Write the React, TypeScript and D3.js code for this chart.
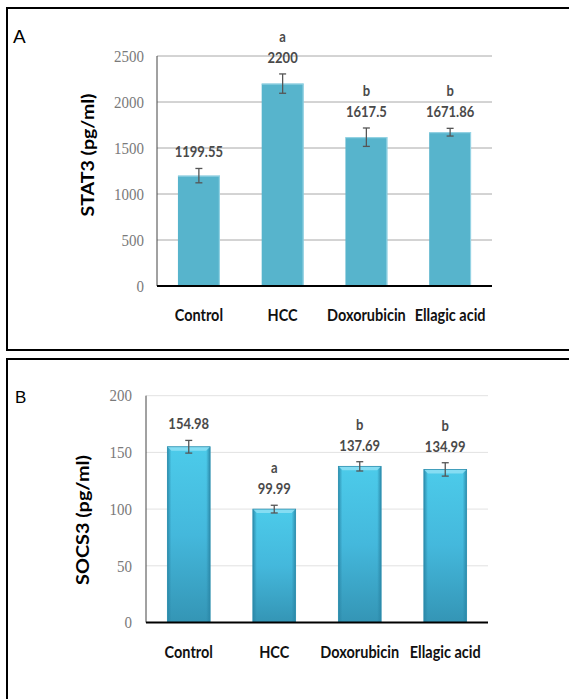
import React from "react";
import * as d3 from "d3";

const categories = ["Control", "HCC", "Doxorubicin", "Ellagic acid"];

const stat3Values = [1199.55, 2200, 1617.5, 1671.86];
const stat3Errors = [78, 105, 100, 42];
const stat3Letters = ["", "a", "b", "b"];
const stat3Ticks = [0, 500, 1000, 1500, 2000, 2500];

const socs3Values = [154.98, 99.99, 137.69, 134.99];
const socs3Errors = [5.6, 3.4, 4.1, 5.9];
const socs3Letters = ["", "a", "b", "b"];
const socs3Ticks = [0, 50, 100, 150, 200];

type PanelProps = {
  id: string;
  letter: string;
  letterX: number;
  letterY: number;
  letterSize: number;
  title: string;
  titleX: number;
  titleY: number;
  titleLen: number;
  values: number[];
  errors: number[];
  letters: string[];
  ticks: number[];
  x0: number;
  x1: number;
  yTop: number;
  yZero: number;
  tickGap: number;
  gridColor: string;
  gradient: boolean;
};

function Panel(p: PanelProps) {
  const x = d3
    .scaleBand<string>()
    .domain(categories)
    .range([p.x0, p.x1])
    .paddingInner(0.5)
    .paddingOuter(0.25);
  const maxT = d3.max(p.ticks) as number;
  const y = d3.scaleLinear().domain([0, maxT]).range([p.yZero, p.yTop]);
  const bw = x.bandwidth();
  return (
    <g>
      <text x={p.letterX} y={p.letterY} fontFamily="Liberation Sans, Arial" fontSize={p.letterSize} fill="#000">
        {p.letter}
      </text>
      {p.ticks.map((t) => (
        <g key={t}>
          {t > 0 && (
            <line x1={p.x0} x2={p.x1} y1={y(t)} y2={y(t)} stroke={p.gridColor} strokeWidth={1} />
          )}
          <text
            transform={`translate(${p.x0 - p.tickGap},${y(t)}) scale(1,1.1)`}
            dy="0.35em"
            textAnchor="end"
            fontFamily="Liberation Serif, serif"
            fontSize={15}
            fill="#7a7a7a"
          >
            {t}
          </text>
        </g>
      ))}
      <line x1={p.x0} x2={p.x0} y1={p.yTop} y2={p.yZero} stroke="#444" strokeWidth={1} />
      {categories.map((c, i) => {
        const bx = x(c) as number;
        const top = y(p.values[i]);
        const h = p.yZero - top;
        const cx = bx + bw / 2;
        const eTop = y(p.values[i] + p.errors[i]);
        const eBot = y(p.values[i] - p.errors[i]);
        return (
          <g key={c}>
            {p.gradient ? (
              <g>
                <rect x={bx} y={top} width={bw} height={h} fill={`url(#${p.id}-v)`} />
                <rect x={bx} y={top} width={4} height={h} fill={`url(#${p.id}-l)`} />
                <rect x={bx + bw - 4} y={top} width={4} height={h} fill={`url(#${p.id}-r)`} />
                <polygon
                  points={`${bx},${top} ${bx + bw},${top} ${bx + bw - 4},${top + 4} ${bx + 4},${top + 4}`}
                  fill="#8fe0f4"
                  opacity={0.85}
                />
                <rect x={bx} y={top} width={bw} height={h} fill="none" stroke="#2e8fae" strokeWidth={0.8} />
              </g>
            ) : (
              <g>
                <rect x={bx} y={top} width={bw} height={h} fill="#57b4cc" />
                <line x1={bx + bw - 0.5} x2={bx + bw - 0.5} y1={top} y2={p.yZero} stroke="#9ad6e6" strokeWidth={1} />
                <line x1={bx} x2={bx + bw} y1={top + 0.5} y2={top + 0.5} stroke="#9ad6e6" strokeWidth={1} />
              </g>
            )}
            <line x1={cx} x2={cx} y1={eTop} y2={eBot} stroke="#555" strokeWidth={1.3} />
            <line x1={cx - 3.5} x2={cx + 3.5} y1={eTop} y2={eTop} stroke="#555" strokeWidth={1.3} />
            <line x1={cx - 3.5} x2={cx + 3.5} y1={eBot} y2={eBot} stroke="#555" strokeWidth={1.3} />
            <text
              transform={`translate(${cx},${eTop - 11}) scale(1,1.1)`}
              textAnchor="middle"
              fontFamily="Lato, sans-serif"
              fontWeight={700}
              fontSize={13}
              fill="#4a4a4a"
            >
              {String(p.values[i])}
            </text>
            {p.letters[i] && (
              <text
                transform={`translate(${cx},${eTop - 32}) scale(1,1.1)`}
                textAnchor="middle"
                fontFamily="Lato, sans-serif"
                fontWeight={700}
                fontSize={13}
                fill="#4a4a4a"
              >
                {p.letters[i]}
              </text>
            )}
            <text
              transform={`translate(${cx},${p.yZero + 35}) scale(1,1.15)`}
              textAnchor="middle"
              fontFamily="Lato, sans-serif"
              fontWeight={700}
              fontSize={14.5}
              fill="#111"
            >
              {c}
            </text>
          </g>
        );
      })}
      <line x1={p.x0} x2={p.x1} y1={p.yZero} y2={p.yZero} stroke="#000" strokeWidth={2} />
      <text
        transform={`translate(${p.titleX},${p.titleY}) rotate(-90)`}
        textAnchor="middle"
        fontFamily="Lato, sans-serif"
        fontWeight={700}
        fontSize={16.5}
        textLength={p.titleLen}
        lengthAdjust="spacingAndGlyphs"
        fill="#000"
      >
        {p.title}
      </text>
    </g>
  );
}

export default function App() {
  return (
    <svg
      width={569}
      height={699}
      style={{ position: "absolute", left: 0, top: 0, background: "#fff" }}
    >
      <defs>
        <linearGradient id="b-v" x1="0" y1="0" x2="0" y2="1">
          <stop offset="0" stopColor="#4ccbea" />
          <stop offset="0.5" stopColor="#44b8dc" />
          <stop offset="1" stopColor="#3495b5" />
        </linearGradient>
        <linearGradient id="b-l" x1="0" y1="0" x2="1" y2="0">
          <stop offset="0" stopColor="#2a86a6" stopOpacity={0.9} />
          <stop offset="1" stopColor="#2a86a6" stopOpacity={0} />
        </linearGradient>
        <linearGradient id="b-r" x1="0" y1="0" x2="1" y2="0">
          <stop offset="0" stopColor="#2a86a6" stopOpacity={0} />
          <stop offset="1" stopColor="#2a86a6" stopOpacity={0.9} />
        </linearGradient>
      </defs>
      <rect x={7} y={8} width={580} height={342} fill="none" stroke="#000" strokeWidth={2} />
      <rect x={7} y={359} width={580} height={360} fill="none" stroke="#000" strokeWidth={2} />
      <Panel
        id="a"
        letter="A"
        letterX={13}
        letterY={43}
        letterSize={19}
        title="STAT3 (pg/ml)"
        titleX={94}
        titleY={155}
        titleLen={123}
        values={stat3Values}
        errors={stat3Errors}
        letters={stat3Letters}
        ticks={stat3Ticks}
        x0={157}
        x1={492}
        yTop={56}
        yZero={286}
        tickGap={13}
        gridColor="#a8a8a8"
        gradient={false}
      />
      <Panel
        id="b"
        letter="B"
        letterX={15}
        letterY={403}
        letterSize={17}
        title="SOCS3 (pg/ml)"
        titleX={89}
        titleY={520}
        titleLen={130}
        values={socs3Values}
        errors={socs3Errors}
        letters={socs3Letters}
        ticks={socs3Ticks}
        x0={146}
        x1={488}
        yTop={395.7}
        yZero={622.5}
        tickGap={14}
        gridColor="#e2e2e2"
        gradient={true}
      />
    </svg>
  );
}
